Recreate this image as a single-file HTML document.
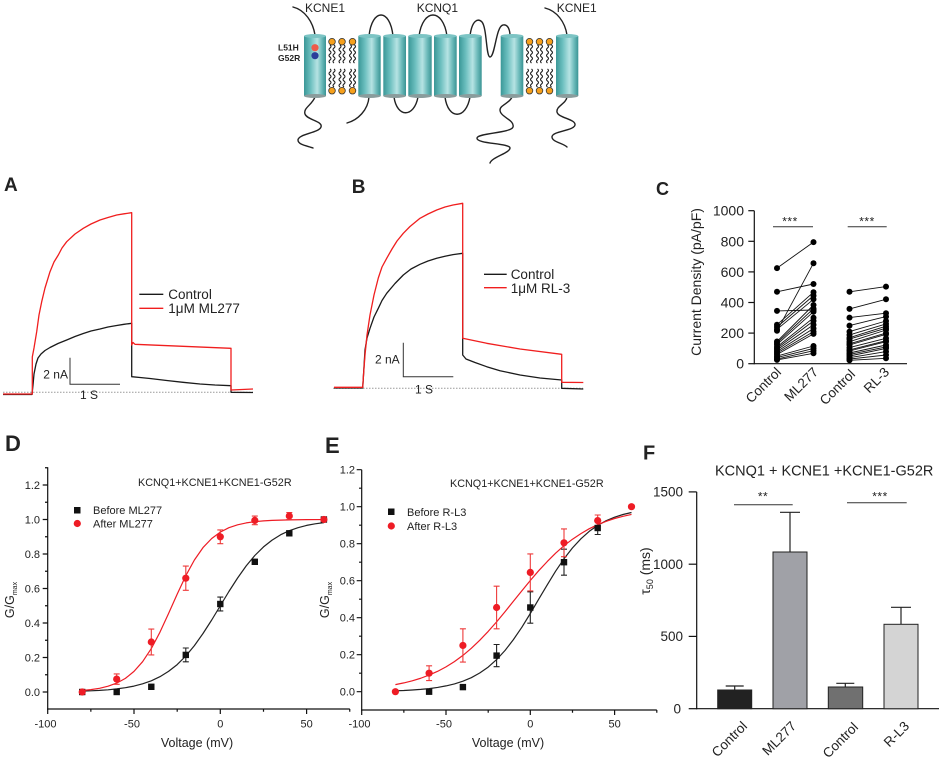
<!DOCTYPE html>
<html><head><meta charset="utf-8"><style>
html,body{margin:0;padding:0;background:#fff;}
svg{display:block;}
text{font-family:"Liberation Sans",Arial,sans-serif;fill:#222;}
</style></head><body>
<svg width="941" height="761" viewBox="0 0 941 761" xmlns="http://www.w3.org/2000/svg">
<defs>
<linearGradient id="cyl" x1="0" y1="0" x2="1" y2="0">
<stop offset="0" stop-color="#3a9797"/><stop offset="0.3" stop-color="#6cbfbf"/><stop offset="0.6" stop-color="#b6e3e3"/><stop offset="0.82" stop-color="#6ab9b9"/><stop offset="1" stop-color="#3a9494"/>
</linearGradient>
</defs>
<rect width="941" height="761" fill="#fff"/>

<!-- ===== Schematic ===== -->
<g fill="none" stroke="#222" stroke-width="1.4" stroke-linecap="round">
<path d="M293,7 C305,10 313,22 315,35"/>
<path d="M369,36 C372,8 390,8 393,36"/>
<path d="M419,36 C423,8 443,8 447,36"/>
<path d="M470,36 C472,20 478,18 482,22 C487,28 486,57 490,57 C495,57 496,26 503,25 C508,24 510,30 510,36"/>
<path d="M545,8 C557,11 565,22 567,35"/>
<path d="M315,97 C312,105 303,108 305,114 C307,120 323,121 321,127 C319,133 298,134 298,140 C298,145 308,146 313,148"/>
<path d="M369,97 C368,110 358,120 347,123"/>
<path d="M394,97 C397,118 414,118 418,97"/>
<path d="M445,97 C448,120 466,120 470,97"/>
<path d="M512,97 C510,103 500,105 500,110 C500,117 515,120 513,127 C511,133 478,133 477,138 C476,144 510,143 510,148 C510,153 492,157 490,163"/>
<path d="M567,97 C566,104 556,106 557,112 C558,118 576,119 575,125 C574,131 552,131 552,137 C552,142 563,143 567,147"/>
</g>
<g>
<g>
<rect x="304" y="36" width="22" height="60" fill="url(#cyl)"/><ellipse cx="315" cy="96" rx="11" ry="2" fill="#8a9c9c"/><ellipse cx="315" cy="36" rx="11" ry="2" fill="#7cc4c4"/>
<rect x="358.3" y="36" width="22.4" height="60" fill="url(#cyl)"/><ellipse cx="369.5" cy="96" rx="11.2" ry="2" fill="#8a9c9c"/><ellipse cx="369.5" cy="36" rx="11.2" ry="2" fill="#7cc4c4"/>
<rect x="383.3" y="36" width="22.7" height="60" fill="url(#cyl)"/><ellipse cx="394.6" cy="96" rx="11.3" ry="2" fill="#8a9c9c"/><ellipse cx="394.6" cy="36" rx="11.3" ry="2" fill="#7cc4c4"/>
<rect x="408.3" y="36" width="23.4" height="60" fill="url(#cyl)"/><ellipse cx="420" cy="96" rx="11.7" ry="2" fill="#8a9c9c"/><ellipse cx="420" cy="36" rx="11.7" ry="2" fill="#7cc4c4"/>
<rect x="434" y="36" width="22.7" height="60" fill="url(#cyl)"/><ellipse cx="445.3" cy="96" rx="11.3" ry="2" fill="#8a9c9c"/><ellipse cx="445.3" cy="36" rx="11.3" ry="2" fill="#7cc4c4"/>
<rect x="459" y="36" width="22.7" height="60" fill="url(#cyl)"/><ellipse cx="470.3" cy="96" rx="11.3" ry="2" fill="#8a9c9c"/><ellipse cx="470.3" cy="36" rx="11.3" ry="2" fill="#7cc4c4"/>
<rect x="500.7" y="36" width="22.6" height="60" fill="url(#cyl)"/><ellipse cx="512" cy="96" rx="11.3" ry="2" fill="#8a9c9c"/><ellipse cx="512" cy="36" rx="11.3" ry="2" fill="#7cc4c4"/>
<rect x="556" y="36" width="22.3" height="60" fill="url(#cyl)"/><ellipse cx="567.1" cy="96" rx="11.1" ry="2" fill="#8a9c9c"/><ellipse cx="567.1" cy="36" rx="11.1" ry="2" fill="#7cc4c4"/>
</g>
<path fill="none" stroke="#222" stroke-width="1.1" d="
M330,45 q2,1.5 0,3 q-2,1.5 0,3 q2,1.5 0,3 q-2,1.5 0,3 q2,1.5 0,3 q-2,1.5 0,3
M334,45 q2,1.5 0,3 q-2,1.5 0,3 q2,1.5 0,3 q-2,1.5 0,3 q2,1.5 0,3 q-2,1.5 0,3
M340,45 q2,1.5 0,3 q-2,1.5 0,3 q2,1.5 0,3 q-2,1.5 0,3 q2,1.5 0,3 q-2,1.5 0,3
M344,45 q2,1.5 0,3 q-2,1.5 0,3 q2,1.5 0,3 q-2,1.5 0,3 q2,1.5 0,3 q-2,1.5 0,3
M350.5,45 q2,1.5 0,3 q-2,1.5 0,3 q2,1.5 0,3 q-2,1.5 0,3 q2,1.5 0,3 q-2,1.5 0,3
M354.5,45 q2,1.5 0,3 q-2,1.5 0,3 q2,1.5 0,3 q-2,1.5 0,3 q2,1.5 0,3 q-2,1.5 0,3
M330,69 q2,1.5 0,3 q-2,1.5 0,3 q2,1.5 0,3 q-2,1.5 0,3 q2,1.5 0,3 q-2,1.5 0,3
M334,69 q2,1.5 0,3 q-2,1.5 0,3 q2,1.5 0,3 q-2,1.5 0,3 q2,1.5 0,3 q-2,1.5 0,3
M340,69 q2,1.5 0,3 q-2,1.5 0,3 q2,1.5 0,3 q-2,1.5 0,3 q2,1.5 0,3 q-2,1.5 0,3
M344,69 q2,1.5 0,3 q-2,1.5 0,3 q2,1.5 0,3 q-2,1.5 0,3 q2,1.5 0,3 q-2,1.5 0,3
M350.5,69 q2,1.5 0,3 q-2,1.5 0,3 q2,1.5 0,3 q-2,1.5 0,3 q2,1.5 0,3 q-2,1.5 0,3
M354.5,69 q2,1.5 0,3 q-2,1.5 0,3 q2,1.5 0,3 q-2,1.5 0,3 q2,1.5 0,3 q-2,1.5 0,3
M527.5,45 q2,1.5 0,3 q-2,1.5 0,3 q2,1.5 0,3 q-2,1.5 0,3 q2,1.5 0,3 q-2,1.5 0,3
M531.5,45 q2,1.5 0,3 q-2,1.5 0,3 q2,1.5 0,3 q-2,1.5 0,3 q2,1.5 0,3 q-2,1.5 0,3
M537.5,45 q2,1.5 0,3 q-2,1.5 0,3 q2,1.5 0,3 q-2,1.5 0,3 q2,1.5 0,3 q-2,1.5 0,3
M541.5,45 q2,1.5 0,3 q-2,1.5 0,3 q2,1.5 0,3 q-2,1.5 0,3 q2,1.5 0,3 q-2,1.5 0,3
M547.5,45 q2,1.5 0,3 q-2,1.5 0,3 q2,1.5 0,3 q-2,1.5 0,3 q2,1.5 0,3 q-2,1.5 0,3
M551.5,45 q2,1.5 0,3 q-2,1.5 0,3 q2,1.5 0,3 q-2,1.5 0,3 q2,1.5 0,3 q-2,1.5 0,3
M527.5,69 q2,1.5 0,3 q-2,1.5 0,3 q2,1.5 0,3 q-2,1.5 0,3 q2,1.5 0,3 q-2,1.5 0,3
M531.5,69 q2,1.5 0,3 q-2,1.5 0,3 q2,1.5 0,3 q-2,1.5 0,3 q2,1.5 0,3 q-2,1.5 0,3
M537.5,69 q2,1.5 0,3 q-2,1.5 0,3 q2,1.5 0,3 q-2,1.5 0,3 q2,1.5 0,3 q-2,1.5 0,3
M541.5,69 q2,1.5 0,3 q-2,1.5 0,3 q2,1.5 0,3 q-2,1.5 0,3 q2,1.5 0,3 q-2,1.5 0,3
M547.5,69 q2,1.5 0,3 q-2,1.5 0,3 q2,1.5 0,3 q-2,1.5 0,3 q2,1.5 0,3 q-2,1.5 0,3
M551.5,69 q2,1.5 0,3 q-2,1.5 0,3 q2,1.5 0,3 q-2,1.5 0,3 q2,1.5 0,3 q-2,1.5 0,3"/>
<g fill="#f6a01c" stroke="#333" stroke-width="0.8">
<circle cx="332" cy="41.7" r="3.3"/><circle cx="342" cy="41.7" r="3.3"/><circle cx="352.5" cy="41.7" r="3.3"/>
<circle cx="332" cy="90.7" r="3.3"/><circle cx="342" cy="90.7" r="3.3"/><circle cx="352.5" cy="90.7" r="3.3"/>
<circle cx="529.5" cy="41.7" r="3.3"/><circle cx="539.5" cy="41.7" r="3.3"/><circle cx="549.5" cy="41.7" r="3.3"/>
<circle cx="529.5" cy="90.7" r="3.3"/><circle cx="539.5" cy="90.7" r="3.3"/><circle cx="549.5" cy="90.7" r="3.3"/>
</g>
<circle cx="315" cy="47.7" r="3.6" fill="#ee5a4a"/>
<circle cx="315" cy="55.7" r="3.6" fill="#2a3f9a"/>
</g>
<text x="305" y="12" font-size="12">KCNE1</text>
<text x="416.7" y="12" font-size="12">KCNQ1</text>
<text x="556.7" y="12" font-size="12">KCNE1</text>
<text x="278" y="50.5" font-size="8.5" font-weight="bold" fill="#333">L51H</text>
<text x="278" y="61" font-size="8.5" font-weight="bold" fill="#333">G52R</text>

<!-- ===== Panel A ===== -->
<text x="4" y="191" font-size="19" font-weight="bold" fill="#000">A</text>
<line x1="3" y1="392.3" x2="253" y2="392.3" stroke="#9a9a9a" stroke-width="1" stroke-dasharray="1.5,1.5"/>
<path fill="none" stroke="#1a1a1a" stroke-width="1.3" stroke-linejoin="round" d="M3,394.5 L32,394.5 L33,385 L34,374 L36,364 L38,358 L41,354 L45,350.5 L50,347.5 L58,343.5 L66.7,340 L75,336.5 L83.3,333.5 L91,331 L100,329 L108,327 L116.7,325.5 L124,324.3 L131.7,323.3 L131.7,376.7 L140,377.5 L150,378.5 L166.7,380.5 L183,382.3 L200,384 L215,385 L231,385.7 L231,392.3 L253,392.5"/>
<path fill="none" stroke="#f01e1e" stroke-width="1.3" stroke-linejoin="round" d="M3,394 L32.3,394 L32.3,357 L34,348 L36.7,331.7 L39,315 L41.7,301.7 L45,288 L50,271.7 L54,262 L58.3,255 L62,248 L66.7,241.7 L75,234 L83.3,228.3 L91,224 L100,220 L108,217.5 L116.7,215 L124,213.8 L131.7,212.7 L131.7,345 L133,342.5 L135,344.3 L231,348.3 L231,390 L253,389"/>
<g stroke="#333" stroke-width="1" fill="none"><path d="M70,357.7 L70,384.3 L120,384.3"/></g>
<text x="43.3" y="378.3" font-size="12">2 nA</text>
<text x="80" y="399" font-size="12">1 S</text>
<line x1="139.3" y1="294.3" x2="163.3" y2="294.3" stroke="#1a1a1a" stroke-width="1.3"/>
<line x1="139.3" y1="308.3" x2="163.3" y2="308.3" stroke="#f01e1e" stroke-width="1.3"/>
<text x="168.3" y="299" font-size="13.5">Control</text>
<text x="168.3" y="313" font-size="13.5">1μM ML277</text>

<!-- ===== Panel B ===== -->
<text x="351.7" y="193" font-size="19" font-weight="bold" fill="#000">B</text>
<line x1="333" y1="388.3" x2="583" y2="388.3" stroke="#9a9a9a" stroke-width="1" stroke-dasharray="1.5,1.5"/>
<path fill="none" stroke="#1a1a1a" stroke-width="1.3" stroke-linejoin="round" d="M334,388 L362.7,388 L363.5,375 L365,350 L367,338 L370,328.3 L374,317 L378.3,308.3 L382,300.5 L386.7,293.3 L395,283.5 L403.3,275 L411,269 L420,264.3 L428,261 L436.7,258.3 L445,256.3 L453,254.6 L462.7,253.3 L462.7,355 L466,359 L475,362.5 L486.7,366.7 L500,370.7 L520,375 L540,378 L561.7,380 L561.7,388.3 L583.3,389"/>
<path fill="none" stroke="#f01e1e" stroke-width="1.3" stroke-linejoin="round" d="M334,387.3 L362.7,387.3 L363.5,375 L365,355 L367,335 L370,315 L374,295 L378.3,278 L382,267 L386.7,258.3 L392,249 L397,241 L403.3,233.3 L410,226.5 L420,218.3 L428,214 L436.7,210 L445,207 L453,205 L462.7,203.3 L462.7,338.3 L486.7,343.3 L520,349 L561.7,354.3 L561.7,382.3 L583.3,382.5"/>
<path d="M403.3,342.7 L403.3,376.7 L453.3,376.7" stroke="#333" stroke-width="1" fill="none"/>
<text x="375" y="363.3" font-size="12">2 nA</text>
<text x="415" y="393.3" font-size="12">1 S</text>
<line x1="484" y1="274.3" x2="506.7" y2="274.3" stroke="#1a1a1a" stroke-width="1.3"/>
<line x1="484" y1="287.7" x2="506.7" y2="287.7" stroke="#f01e1e" stroke-width="1.3"/>
<text x="510.7" y="279" font-size="13.5">Control</text>
<text x="510.7" y="293" font-size="13.5">1μM RL-3</text>

<!-- ===== Panel C ===== -->
<text x="656" y="195" font-size="18" font-weight="bold" fill="#000">C</text>
<g stroke="#111" stroke-width="1.2">
<line x1="754.3" y1="210.7" x2="754.3" y2="364.3"/>
<line x1="754.3" y1="363.7" x2="907" y2="363.7"/>
<line x1="748.3" y1="363.7" x2="754.3" y2="363.7"/>
<line x1="748.3" y1="333.1" x2="754.3" y2="333.1"/>
<line x1="748.3" y1="302.5" x2="754.3" y2="302.5"/>
<line x1="748.3" y1="271.9" x2="754.3" y2="271.9"/>
<line x1="748.3" y1="241.3" x2="754.3" y2="241.3"/>
<line x1="748.3" y1="210.7" x2="754.3" y2="210.7"/>
</g>
<g font-size="14" text-anchor="end">
<text x="744" y="368.7">0</text>
<text x="744" y="338.1">200</text>
<text x="744" y="307.5">400</text>
<text x="744" y="276.9">600</text>
<text x="744" y="246.3">800</text>
<text x="744" y="215.7">1000</text>
</g>
<text transform="translate(701,282) rotate(-90)" font-size="14" text-anchor="middle">Current Density (pA/pF)</text>
<line x1="773" y1="226.7" x2="813" y2="226.7" stroke="#333" stroke-width="1"/>
<line x1="847.7" y1="226.7" x2="886.7" y2="226.7" stroke="#333" stroke-width="1"/>
<text x="790" y="225.5" font-size="12" text-anchor="middle" fill="#666" letter-spacing="0.5">***</text>
<text x="867" y="225.5" font-size="12" text-anchor="middle" fill="#666" letter-spacing="0.5">***</text>
<g stroke="#111" stroke-width="0.9">
<line x1="777" y1="268.1" x2="813.5" y2="242.1"/>
<line x1="777" y1="291.8" x2="813.5" y2="284"/>
<line x1="777" y1="310.9" x2="813.5" y2="310"/>
<line x1="777" y1="330.8" x2="813.5" y2="263.2"/>
<line x1="777" y1="324.7" x2="813.5" y2="292.2"/>
<line x1="777" y1="327" x2="813.5" y2="295.6"/>
<line x1="777" y1="329.3" x2="813.5" y2="299.3"/>
<line x1="777" y1="341.5" x2="813.5" y2="305"/>
<line x1="777" y1="343" x2="813.5" y2="308.6"/>
<line x1="777" y1="344.6" x2="813.5" y2="311.7"/>
<line x1="777" y1="346.9" x2="813.5" y2="317.8"/>
<line x1="777" y1="348.4" x2="813.5" y2="320.9"/>
<line x1="777" y1="349.9" x2="813.5" y2="324.7"/>
<line x1="777" y1="351.5" x2="813.5" y2="328.5"/>
<line x1="777" y1="353" x2="813.5" y2="331.6"/>
<line x1="777" y1="354.5" x2="813.5" y2="333.9"/>
<line x1="777" y1="356.1" x2="813.5" y2="346"/>
<line x1="777" y1="357.6" x2="813.5" y2="348.4"/>
<line x1="777" y1="359.1" x2="813.5" y2="350.7"/>
<line x1="777" y1="359.9" x2="813.5" y2="353.3"/>
<line x1="849.5" y1="291.8" x2="886" y2="286.6"/>
<line x1="849.5" y1="308.9" x2="886" y2="299.3"/>
<line x1="849.5" y1="317.6" x2="886" y2="313.2"/>
<line x1="849.5" y1="325.6" x2="886" y2="316.6"/>
<line x1="849.5" y1="331.6" x2="886" y2="321"/>
<line x1="849.5" y1="334.9" x2="886" y2="323.9"/>
<line x1="849.5" y1="337.7" x2="886" y2="326.2"/>
<line x1="849.5" y1="339.1" x2="886" y2="328.2"/>
<line x1="849.5" y1="341.7" x2="886" y2="330"/>
<line x1="849.5" y1="343.8" x2="886" y2="333.1"/>
<line x1="849.5" y1="345" x2="886" y2="334.3"/>
<line x1="849.5" y1="347.6" x2="886" y2="338.3"/>
<line x1="849.5" y1="349.9" x2="886" y2="340.7"/>
<line x1="849.5" y1="351" x2="886" y2="341.7"/>
<line x1="849.5" y1="353" x2="886" y2="345"/>
<line x1="849.5" y1="354.4" x2="886" y2="346.9"/>
<line x1="849.5" y1="356" x2="886" y2="348.4"/>
<line x1="849.5" y1="357.7" x2="886" y2="351.6"/>
<line x1="849.5" y1="359.1" x2="886" y2="355"/>
<line x1="849.5" y1="360.3" x2="886" y2="358.3"/>
</g>
<g fill="#000">
<circle cx="777" cy="268.1" r="3"/><circle cx="777" cy="291.8" r="3"/><circle cx="777" cy="310.9" r="3"/><circle cx="777" cy="330.8" r="3"/><circle cx="777" cy="324.7" r="3"/><circle cx="777" cy="327" r="3"/><circle cx="777" cy="329.3" r="3"/><circle cx="777" cy="341.5" r="3"/><circle cx="777" cy="343" r="3"/><circle cx="777" cy="344.6" r="3"/><circle cx="777" cy="346.9" r="3"/><circle cx="777" cy="348.4" r="3"/><circle cx="777" cy="349.9" r="3"/><circle cx="777" cy="351.5" r="3"/><circle cx="777" cy="353" r="3"/><circle cx="777" cy="354.5" r="3"/><circle cx="777" cy="356.1" r="3"/><circle cx="777" cy="357.6" r="3"/><circle cx="777" cy="359.1" r="3"/><circle cx="777" cy="359.9" r="3"/>
<circle cx="813.5" cy="242.1" r="3"/><circle cx="813.5" cy="284" r="3"/><circle cx="813.5" cy="310" r="3"/><circle cx="813.5" cy="263.2" r="3"/><circle cx="813.5" cy="292.2" r="3"/><circle cx="813.5" cy="295.6" r="3"/><circle cx="813.5" cy="299.3" r="3"/><circle cx="813.5" cy="305" r="3"/><circle cx="813.5" cy="308.6" r="3"/><circle cx="813.5" cy="311.7" r="3"/><circle cx="813.5" cy="317.8" r="3"/><circle cx="813.5" cy="320.9" r="3"/><circle cx="813.5" cy="324.7" r="3"/><circle cx="813.5" cy="328.5" r="3"/><circle cx="813.5" cy="331.6" r="3"/><circle cx="813.5" cy="333.9" r="3"/><circle cx="813.5" cy="346" r="3"/><circle cx="813.5" cy="348.4" r="3"/><circle cx="813.5" cy="350.7" r="3"/><circle cx="813.5" cy="353.3" r="3"/>
<circle cx="849.5" cy="291.8" r="3"/><circle cx="849.5" cy="308.9" r="3"/><circle cx="849.5" cy="317.6" r="3"/><circle cx="849.5" cy="325.6" r="3"/><circle cx="849.5" cy="331.6" r="3"/><circle cx="849.5" cy="334.9" r="3"/><circle cx="849.5" cy="337.7" r="3"/><circle cx="849.5" cy="339.1" r="3"/><circle cx="849.5" cy="341.7" r="3"/><circle cx="849.5" cy="343.8" r="3"/><circle cx="849.5" cy="345" r="3"/><circle cx="849.5" cy="347.6" r="3"/><circle cx="849.5" cy="349.9" r="3"/><circle cx="849.5" cy="351" r="3"/><circle cx="849.5" cy="353" r="3"/><circle cx="849.5" cy="354.4" r="3"/><circle cx="849.5" cy="356" r="3"/><circle cx="849.5" cy="357.7" r="3"/><circle cx="849.5" cy="359.1" r="3"/><circle cx="849.5" cy="360.3" r="3"/>
<circle cx="886" cy="286.6" r="3"/><circle cx="886" cy="299.3" r="3"/><circle cx="886" cy="313.2" r="3"/><circle cx="886" cy="316.6" r="3"/><circle cx="886" cy="321" r="3"/><circle cx="886" cy="323.9" r="3"/><circle cx="886" cy="326.2" r="3"/><circle cx="886" cy="328.2" r="3"/><circle cx="886" cy="330" r="3"/><circle cx="886" cy="333.1" r="3"/><circle cx="886" cy="334.3" r="3"/><circle cx="886" cy="338.3" r="3"/><circle cx="886" cy="340.7" r="3"/><circle cx="886" cy="341.7" r="3"/><circle cx="886" cy="345" r="3"/><circle cx="886" cy="346.9" r="3"/><circle cx="886" cy="348.4" r="3"/><circle cx="886" cy="351.6" r="3"/><circle cx="886" cy="355" r="3"/><circle cx="886" cy="358.3" r="3"/>
</g>
<g font-size="13.5" text-anchor="end">
<text transform="translate(782,373) rotate(-45)">Control</text>
<text transform="translate(819,373) rotate(-45)">ML277</text>
<text transform="translate(856,375) rotate(-45)">Control</text>
<text transform="translate(890,373) rotate(-45)">RL-3</text>
</g>

<!-- ===== Panel D ===== -->
<text x="5" y="451" font-size="22" font-weight="bold" fill="#000">D</text>
<g stroke="#111" stroke-width="1.2" fill="none">
<line x1="47.7" y1="467.3" x2="47.7" y2="709.6"/>
<line x1="47.1" y1="709" x2="349.8" y2="709"/>
<path d="M42.7,692H47.7M42.7,657.5H47.7M42.7,623H47.7M42.7,588.5H47.7M42.7,554H47.7M42.7,519.5H47.7M42.7,485H47.7"/>
<path d="M45,674.75H47.7M45,640.25H47.7M45,605.75H47.7M45,571.25H47.7M45,536.75H47.7M45,502.25H47.7M45,467.75H47.7"/>
<path d="M47.7,709V714M134,709V714M220.3,709V714M306.6,709V714"/>
<path d="M90.85,709V711.8M177.2,709V711.8M263.5,709V711.8M349.75,709V711.8"/>
</g>
<g font-size="11" text-anchor="end">
<text x="40" y="696">0.0</text><text x="40" y="661.5">0.2</text><text x="40" y="627">0.4</text><text x="40" y="592.5">0.6</text><text x="40" y="558">0.8</text><text x="40" y="523.5">1.0</text><text x="40" y="489">1.2</text>
</g>
<g font-size="11" text-anchor="middle">
<text x="45.5" y="727.3">-100</text><text x="132" y="727.3">-50</text><text x="220.3" y="727.3">0</text><text x="306.6" y="727.3">50</text>
</g>
<text x="197" y="747" font-size="12.5" text-anchor="middle">Voltage (mV)</text>
<text transform="translate(14,600) rotate(-90)" font-size="12.5" text-anchor="middle">G/G<tspan font-size="7" dy="3">max</tspan></text>
<text x="138" y="486" font-size="10.8">KCNQ1+KCNE1+KCNE1-G52R</text>
<rect x="74" y="507" width="6.5" height="6.5" fill="#111"/>
<circle cx="77.3" cy="523.5" r="3.6" fill="#ee1c25"/>
<text x="93" y="514" font-size="11">Before ML277</text>
<text x="93" y="527.5" font-size="11">After ML277</text>
<path fill="none" stroke="#222" stroke-width="1.2" stroke-linejoin="round" d="M82.2,691.2 L90.85,690.8 L99.5,690.4 L108.1,689.8 L116.7,688.9 L125.4,687.7 L134,686.1 L142.6,683.8 L151.3,680.8 L159.9,676.7 L168.5,671.4 L177.2,664.6 L185.8,656 L194.4,645.6 L203,633.5 L211.7,620 L220.3,605.75 L228.9,591.5 L237.6,578 L246.2,565.9 L254.8,555.5 L263.5,546.9 L272.1,540.1 L280.7,534.7 L289.3,530.7 L298,527.7 L306.6,525.4 L315.2,523.8 L323.9,522.6"/>
<g stroke="#222" stroke-width="1.1" fill="none">
<path d="M185.8,648V661.8M182.8,648H188.8M182.8,661.8H188.8"/>
<path d="M220.3,597.1V610.9M217.3,597.1H223.3M217.3,610.9H223.3"/>
</g>
<g fill="#111">
<rect x="79" y="688.8" width="6.4" height="6.4"/><rect x="113.5" y="688.8" width="6.4" height="6.4"/><rect x="148.1" y="683.6" width="6.4" height="6.4"/><rect x="182.6" y="651.7" width="6.4" height="6.4"/><rect x="217.1" y="600.8" width="6.4" height="6.4"/><rect x="251.6" y="558.6" width="6.4" height="6.4"/><rect x="286.1" y="530.1" width="6.4" height="6.4"/><rect x="320.7" y="516.3" width="6.4" height="6.4"/>
</g>
<path fill="none" stroke="#ee1c25" stroke-width="1.2" stroke-linejoin="round" d="M82.2,690.5 L90.85,689.6 L99.5,688.3 L108.1,686.2 L116.7,683.1 L125.4,678.4 L134,671.4 L142.6,661.7 L151.3,648.6 L159.9,632.3 L168.5,613.6 L177.2,594.1 L185.8,575.7 L194.4,560 L203,547.6 L211.7,538.5 L220.3,532.1 L228.9,527.7 L237.6,524.8 L246.2,522.9 L254.8,521.7 L263.5,520.9 L272.1,520.4 L289.3,519.9 L306.6,519.6 L323.9,519.55"/>
<g stroke="#ee3b3b" stroke-width="1.1" fill="none">
<path d="M116.7,673.9V684.3M113.7,673.9H119.7M113.7,684.3H119.7"/>
<path d="M151.3,629.1V654.9M148.3,629.1H154.3M148.3,654.9H154.3"/>
<path d="M185.8,566.1V590.3M182.8,566.1H188.8M182.8,590.3H188.8"/>
<path d="M220.3,529.9V543.7M217.3,529.9H223.3M217.3,543.7H223.3"/>
<path d="M254.8,516.1V524.7M251.8,516.1H257.8M251.8,524.7H257.8"/>
<path d="M289.3,512.6V519.5M286.3,512.6H292.3M286.3,519.5H292.3"/>
</g>
<g fill="#ee1c25">
<circle cx="82.2" cy="692" r="3.6"/><circle cx="116.7" cy="679.1" r="3.6"/><circle cx="151.3" cy="642" r="3.6"/><circle cx="185.8" cy="578.2" r="3.6"/><circle cx="220.3" cy="536.8" r="3.6"/><circle cx="254.8" cy="520.4" r="3.6"/><circle cx="289.3" cy="516" r="3.6"/><circle cx="323.9" cy="519.5" r="3.6"/>
</g>

<!-- ===== Panel E ===== -->
<text x="325" y="453" font-size="22" font-weight="bold" fill="#000">E</text>
<g stroke="#111" stroke-width="1.2" fill="none">
<line x1="361.7" y1="469.7" x2="361.7" y2="710.6"/>
<line x1="361.1" y1="710" x2="656.8" y2="710"/>
<path d="M356.7,691.7H361.7M356.7,654.7H361.7M356.7,617.7H361.7M356.7,580.7H361.7M356.7,543.7H361.7M356.7,506.7H361.7M356.7,469.7H361.7"/>
<path d="M359,673.2H361.7M359,636.2H361.7M359,599.2H361.7M359,562.2H361.7M359,525.2H361.7M359,488.2H361.7"/>
<path d="M361.7,710V715M446,710V715M530.3,710V715M614.6,710V715"/>
<path d="M403.85,710V712.8M488.2,710V712.8M572.5,710V712.8M656.8,710V712.8"/>
</g>
<g font-size="11" text-anchor="end">
<text x="355" y="695.7">0.0</text><text x="355" y="658.7">0.2</text><text x="355" y="621.7">0.4</text><text x="355" y="584.7">0.6</text><text x="355" y="547.7">0.8</text><text x="355" y="510.7">1.0</text><text x="355" y="473.7">1.2</text>
</g>
<g font-size="11" text-anchor="middle">
<text x="359.5" y="727.3">-100</text><text x="444" y="727.3">-50</text><text x="530.3" y="727.3">0</text><text x="614.6" y="727.3">50</text>
</g>
<text x="508" y="747" font-size="12.5" text-anchor="middle">Voltage (mV)</text>
<text transform="translate(329,600) rotate(-90)" font-size="12.5" text-anchor="middle">G/G<tspan font-size="7" dy="3">max</tspan></text>
<text x="450" y="487" font-size="10.8">KCNQ1+KCNE1+KCNE1-G52R</text>
<rect x="388" y="508.5" width="6.5" height="6.5" fill="#111"/>
<circle cx="391.3" cy="526" r="3.6" fill="#ee1c25"/>
<text x="407" y="516" font-size="11">Before R-L3</text>
<text x="407" y="530" font-size="11">After R-L3</text>
<path fill="none" stroke="#222" stroke-width="1.2" stroke-linejoin="round" d="M395.4,690.8 L403.85,690.5 L412.3,690 L420.7,689.4 L429.1,688.6 L437.6,687.45 L446,685.9 L454.4,683.9 L462.9,681.2 L471.3,677.7 L479.7,673 L488.2,667.1 L496.6,659.6 L505,650.5 L513.4,639.6 L521.9,627.2 L530.3,613.5 L538.7,599.2 L547.2,584.9 L555.6,571.2 L564,558.8 L572.5,547.9 L580.9,538.8 L589.3,531.3 L597.7,525.4 L606.2,520.7 L614.6,517.2 L623,514.5 L631.5,512.5"/>
<path fill="none" stroke="#ee1c25" stroke-width="1.2" stroke-linejoin="round" d="M395.4,684.6 L403.85,682.9 L412.3,680.8 L420.7,678.25 L429.1,675.1 L437.6,671.35 L446,666.9 L454.4,661.6 L462.9,655.4 L471.3,648.3 L479.7,640.3 L488.2,631.4 L496.6,621.9 L505,611.7 L513.4,601.3 L521.9,590.8 L530.3,580.5 L538.7,570.7 L547.2,561.6 L555.6,553.2 L564,545.7 L572.5,539.2 L580.9,533.6 L589.3,528.7 L597.7,524.7 L606.2,521.3 L614.6,518.5 L623,516.3 L631.5,514.4"/>
<g stroke="#222" stroke-width="1.1" fill="none">
<path d="M496.6,644.5V666.7M493.6,644.5H499.6M493.6,666.7H499.6"/>
<path d="M530.3,591.8V623.2M527.3,591.8H533.3M527.3,623.2H533.3"/>
<path d="M564,549.2V575.2M561,549.2H567M561,575.2H567"/>
<path d="M597.7,521.5V534.5M594.7,521.5H600.7M594.7,534.5H600.7"/>
</g>
<g stroke="#ee3b3b" stroke-width="1.1" fill="none">
<path d="M429.1,665.8V680.6M426.1,665.8H432.1M426.1,680.6H432.1"/>
<path d="M462.9,628.8V662.1M459.9,628.8H465.9M459.9,662.1H465.9"/>
<path d="M496.6,586.2V628.8M493.6,586.2H499.6M493.6,628.8H499.6"/>
<path d="M530.3,553.9V590.9M527.3,553.9H533.3M527.3,590.9H533.3"/>
<path d="M564,528.9V556.7M561,528.9H567M561,556.7H567"/>
<path d="M597.7,515V526.2M594.7,515H600.7M594.7,526.2H600.7"/>
</g>
<g fill="#ee1c25">
<circle cx="395.4" cy="691.7" r="3.6"/><circle cx="429.1" cy="673.2" r="3.6"/><circle cx="462.9" cy="645.45" r="3.6"/><circle cx="496.6" cy="607.5" r="3.6"/><circle cx="530.3" cy="572.4" r="3.6"/><circle cx="564" cy="542.8" r="3.6"/><circle cx="597.7" cy="520.6" r="3.6"/><circle cx="631.5" cy="506.7" r="3.6"/>
</g>
<g fill="#111">
<rect x="425.9" y="688.5" width="6.4" height="6.4"/><rect x="459.7" y="683.9" width="6.4" height="6.4"/><rect x="493.4" y="652.4" width="6.4" height="6.4"/><rect x="527.1" y="604.3" width="6.4" height="6.4"/><rect x="560.8" y="559" width="6.4" height="6.4"/><rect x="594.5" y="524.8" width="6.4" height="6.4"/>
</g>

<!-- ===== Panel F ===== -->
<text x="643" y="459.5" font-size="20" font-weight="bold" fill="#000">F</text>
<text x="715" y="475.5" font-size="14.5">KCNQ1 + KCNE1 +KCNE1-G52R</text>
<g stroke="#111" stroke-width="1.2">
<line x1="696.7" y1="491.9" x2="696.7" y2="709.3"/>
<line x1="696.1" y1="708.7" x2="939" y2="708.7"/>
<line x1="688.7" y1="708.7" x2="696.7" y2="708.7"/>
<line x1="688.7" y1="636.4" x2="696.7" y2="636.4"/>
<line x1="688.7" y1="564.2" x2="696.7" y2="564.2"/>
<line x1="688.7" y1="491.9" x2="696.7" y2="491.9"/>
</g>
<g font-size="13.5" text-anchor="end">
<text x="681" y="713.5">0</text>
<text x="683" y="641.2">500</text>
<text x="683" y="569">1000</text>
<text x="683" y="496.7">1500</text>
</g>
<text transform="translate(650,571) rotate(-90)" font-size="14" text-anchor="middle">τ<tspan font-size="9" dy="3">50</tspan><tspan dy="-3"> (ms)</tspan></text>
<g stroke="#222" stroke-width="1.2" fill="none">
<path d="M734.7,690V686M725.7,686H743.7"/>
<path d="M790,552V512.3M780,512.3H800"/>
<path d="M845.3,687V683.3M836.3,683.3H854.3"/>
<path d="M901,624.3V607.3M891,607.3H911"/>
</g>
<g stroke="#222" stroke-width="1">
<rect x="717.7" y="690" width="34" height="18.7" fill="#222"/>
<rect x="773" y="552" width="34" height="156.7" fill="#a0a1a7"/>
<rect x="828.3" y="687" width="34.4" height="21.7" fill="#707070"/>
<rect x="884" y="624.3" width="34" height="84.4" fill="#d4d4d4"/>
</g>
<line x1="734" y1="504.7" x2="792.7" y2="504.7" stroke="#333" stroke-width="1"/>
<line x1="847" y1="502.7" x2="906.7" y2="502.7" stroke="#333" stroke-width="1"/>
<text x="763" y="500.5" font-size="12" text-anchor="middle" fill="#666" letter-spacing="0.5">**</text>
<text x="880" y="500.5" font-size="12" text-anchor="middle" fill="#666" letter-spacing="0.5">***</text>
<g font-size="13.5" text-anchor="end">
<text transform="translate(748,727) rotate(-45)">Control</text>
<text transform="translate(797,727) rotate(-45)">ML277</text>
<text transform="translate(859,728) rotate(-45)">Control</text>
<text transform="translate(910,727) rotate(-45)">R-L3</text>
</g>
</svg>
</body></html>
